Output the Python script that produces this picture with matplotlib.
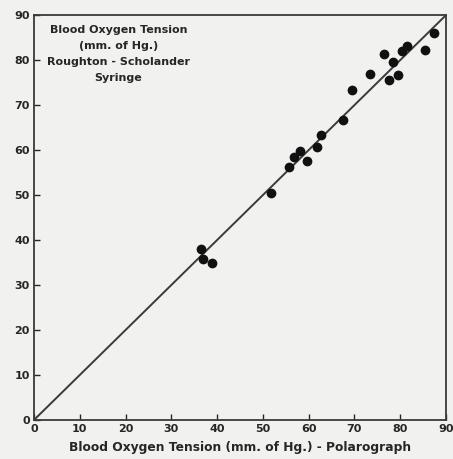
import matplotlib.pyplot as plt

# polarograph reading vs Roughton-Scholander syringe reading (mm of Hg)
polarograph = [36.4, 37.0, 38.8, 51.7, 55.8, 56.7, 58.2, 59.7, 61.8, 62.6,
               67.5, 69.4, 73.3, 76.4, 77.6, 78.5, 79.5, 80.3, 81.4, 85.4, 87.4]
syringe = [38.0, 35.7, 35.0, 50.4, 56.3, 58.5, 59.8, 57.6, 60.6, 63.3,
           66.8, 73.3, 76.9, 81.3, 75.6, 79.5, 76.7, 82.0, 83.1, 82.2, 86.1]

ticks = [0, 10, 20, 30, 40, 50, 60, 70, 80, 90]
tick_labels = ["0", "10", "20", "30", "40", "50", "60", "70", "80", "90"]

ink = "#262626"
paper = "#f1f1f0"

fig = plt.figure(figsize=(4.53, 4.59), dpi=100, facecolor=paper)
ax = fig.add_axes([0.075, 0.085, 0.9095, 0.882], facecolor=paper)

# line of identity
ax.plot([0, 90], [0, 90], color="#3a3a3a", linewidth=1.4, zorder=2)
ax.plot(polarograph, syringe, linestyle="none", marker="o", markersize=6,
        color="#111111", zorder=3)

ax.set_xlim(0, 90)
ax.set_ylim(0, 90)
ax.set_xticks(ticks)
ax.set_xticklabels(tick_labels)
ax.set_yticks(ticks)
ax.set_yticklabels(tick_labels)
ax.tick_params(direction="in", length=4, width=1, color=ink,
               labelsize=8, labelcolor=ink, pad=3)
for lbl in ax.get_xticklabels() + ax.get_yticklabels():
    lbl.set_fontweight("bold")
for side in ax.spines.values():
    side.set_color("#3a3a3a")
    side.set_linewidth(1.3)

ax.set_xlabel("Blood Oxygen Tension (mm. of Hg.) - Polarograph",
              fontsize=8.8, fontweight="bold", color=ink, labelpad=5)

ax.text(0.205, 0.975, "Blood Oxygen Tension\n(mm. of Hg.)\nRoughton - Scholander\nSyringe",
        transform=ax.transAxes, ha="center", va="top", fontsize=8,
        fontweight="bold", color=ink, linespacing=1.75)

fig.savefig("out.png", dpi=100, facecolor=paper)
